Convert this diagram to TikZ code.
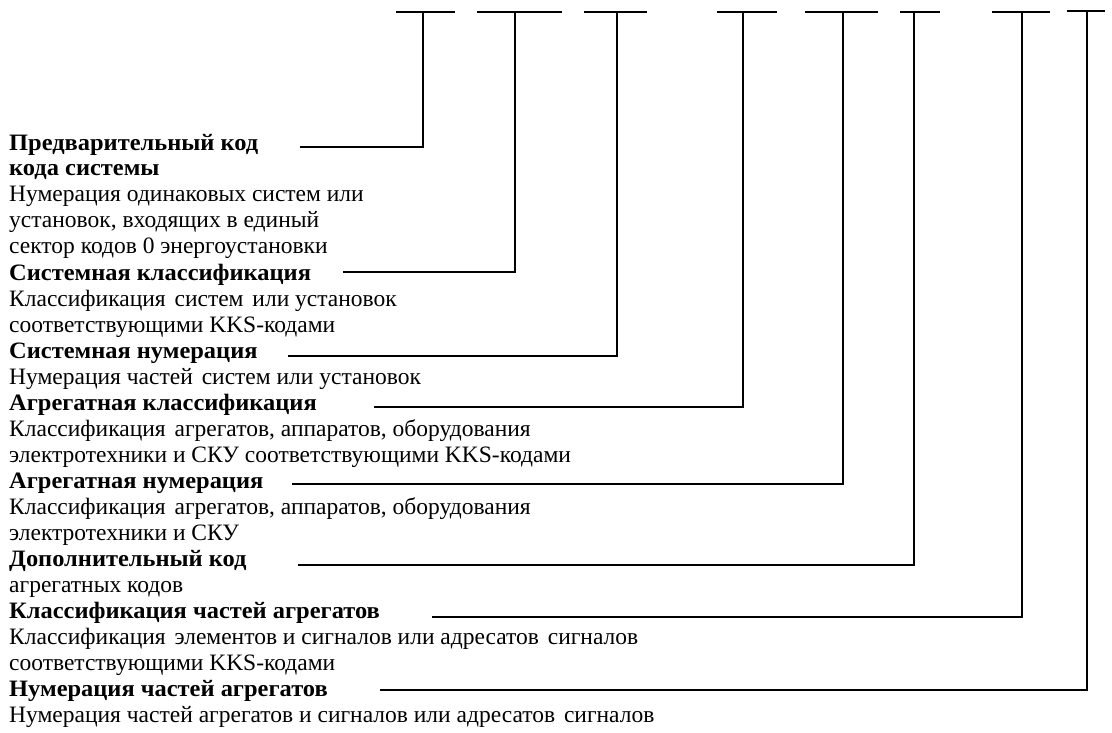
\documentclass[tikz,border=0pt]{standalone}
\usepackage{fontspec}
\setmainfont{Liberation Serif}[BoldFeatures={FakeStretch=1.04}]
\newcommand{\xs}{\hspace{3pt} }
\begin{document}
\begin{tikzpicture}[x=1pt,y=-1pt,
  conn/.style={line width=2.8pt, line join=miter},
  bar/.style={line width=2.8pt},
  lbl/.style={anchor=base west, inner sep=0pt, font=\fontsize{23.5}{26}\selectfont},
  ttl/.style={lbl, font=\fontsize{23.5}{26}\selectfont\bfseries}]
\useasboundingbox (0,0) rectangle (1112,733);
% top bars
\foreach \i/\l/\m/\r/\y in {1/396/423/455/12, 2/477/515/562/12, 3/584/617/647/12, 4/717/743/777/12,
                              5/805/843/878/12, 6/900/914/940/12, 7/992/1022/1050/12, 8/1067/1087/1105/11}{
  \coordinate (bl\i) at (\l,\y);
  \coordinate (br\i) at (\r,\y);
  \coordinate (top\i) at (\m,\y);
  \draw[bar] (bl\i) -- (br\i);
}
% texts
\node[ttl] (l0) at (9,151) {Предварительный код};
\node[ttl] (l1) at (9,176) {кода системы};
\node[lbl] (l2) at (9,202) {Нумерация одинаковых систем или};
\node[lbl] (l3) at (9,228) {установок, входящих в единый};
\node[lbl] (l4) at (9,254) {сектор кодов 0 энергоустановки};
\node[ttl] (l5) at (9,280) {Системная классификация};
\node[lbl] (l6) at (9,306) {Классификация\xs систем\xs или установок};
\node[lbl] (l7) at (9,332) {соответствующими KKS-кодами};
\node[ttl] (l8) at (9,358) {Системная нумерация};
\node[lbl] (l9) at (9,384) {Нумерация частей\xs систем или установок};
\node[ttl] (l10) at (9,410) {Агрегатная классификация};
\node[lbl] (l11) at (9,436) {Классификация\xs агрегатов, аппаратов, оборудования};
\node[lbl] (l12) at (9,462) {электротехники и СКУ соответствующими KKS-кодами};
\node[ttl] (l13) at (9,488) {Агрегатная нумерация};
\node[lbl] (l14) at (9,514) {Классификация\xs агрегатов, аппаратов, оборудования};
\node[lbl] (l15) at (9,540) {электротехники и СКУ};
\node[ttl] (l16) at (9,566) {Дополнительный код};
\node[lbl] (l17) at (9,592) {агрегатных кодов};
\node[ttl] (l18) at (9,618) {Классификация частей агрегатов};
\node[lbl] (l19) at (9,644) {Классификация\xs элементов и сигналов или адресатов\xs сигналов};
\node[lbl] (l20) at (9,670) {соответствующими KKS-кодами};
\node[ttl] (l21) at (9,696) {Нумерация частей агрегатов};
\node[lbl] (l22) at (9,722) {Нумерация частей агрегатов и сигналов или адресатов\xs сигналов};
% connector starts
\coordinate (s1) at (300,147);
\coordinate (s2) at (343,272);
\coordinate (s3) at (288,356);
\coordinate (s4) at (374,407);
\coordinate (s5) at (292,484);
\coordinate (s6) at (298,565);
\coordinate (s7) at (432,617);
\coordinate (s8) at (380,690);
\foreach \i in {1,...,8}{
  \draw[conn] (s\i) -| (top\i);
}
\end{tikzpicture}
\end{document}
